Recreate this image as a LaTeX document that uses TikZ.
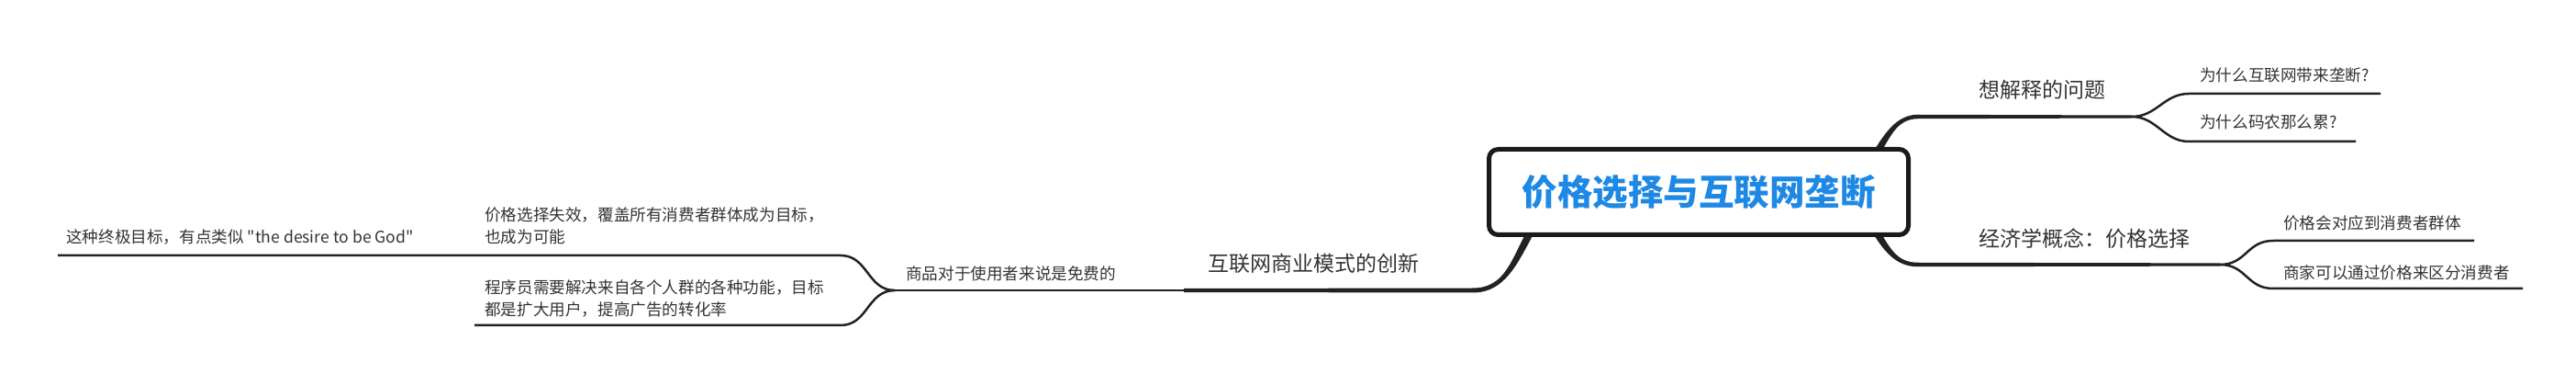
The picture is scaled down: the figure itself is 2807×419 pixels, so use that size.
\documentclass[tikz,border=0pt]{standalone}
\usepackage{fontspec}
\setmainfont{Noto Sans CJK SC}
\newfontfamily\cjk{Noto Sans CJK SC}
\usetikzlibrary{calc}
\definecolor{titleblue}{HTML}{1E88E5}
\definecolor{txt}{HTML}{333333}
\definecolor{ln}{HTML}{222222}
\definecolor{boxln}{HTML}{1A1A1A}
\begin{document}
\begin{tikzpicture}[x=1pt,y=-1pt,
  lbl/.style={anchor=west,inner sep=0pt,text=txt,font=\cjk\fontsize{17.6}{24}\selectfont},
  lblbig/.style={anchor=west,inner sep=0pt,text=txt,font=\cjk\fontsize{23}{28}\selectfont},
  sub/.style={draw=ln,line width=2.5pt},
  taper/.style={fill=ln,draw=none},
  rootbox/.style={draw=boxln,line width=5pt,rounded corners=10pt,fill=white,
    minimum width=457pt,minimum height=93pt,inner sep=0pt,text=titleblue,
    font=\fontsize{38.5}{46}\selectfont\bfseries}]
\useasboundingbox (0,0) rectangle (2807,419);

% coordinates of branch lines
\coordinate (r1s) at (2040,175);
\coordinate (r1h) at (2090,127);
\coordinate (r1f) at (2323,127);
\coordinate (r1a) at (2385,102);
\coordinate (r1ae) at (2594,102);
\coordinate (r1b) at (2385,154);
\coordinate (r1be) at (2567,154);

\coordinate (r2s) at (2040,245);
\coordinate (r2h) at (2090,288);
\coordinate (r2f) at (2419,288);
\coordinate (r2a) at (2477,262);
\coordinate (r2ae) at (2696,262);
\coordinate (r2b) at (2477,314);
\coordinate (r2be) at (2749,314);

\coordinate (l1s) at (1669,250);
\coordinate (l1h) at (1605,316);
\coordinate (l1m) at (1290,316);
\coordinate (l1f) at (975,316);
\coordinate (l1a) at (916,278);
\coordinate (l1ae) at (517,278);
\coordinate (l1aee) at (63,278);
\coordinate (l1b) at (916,354);
\coordinate (l1be) at (517,354);

% main tapered branches
\fill[taper] ($(r1s)+(3.4,2)$) .. controls ($(r1s)+(19.4,-25)$) and ($(r1h)+(-24,2.25)$) .. ($(r1h)+(0,2.25)$)
  -- ($(r1f)+(0,1.5)$) -- ($(r1f)+(0,-1.5)$) -- ($(r1h)+(0,-2.25)$)
  .. controls ($(r1h)+(-24,-2.25)$) and ($(r1s)+(12.6,-29)$) .. ($(r1s)+(-3.4,-2)$) -- cycle;
\fill[taper] ($(r2s)+(-3.4,2)$) .. controls ($(r2s)+(12.6,29)$) and ($(r2h)+(-24,2.25)$) .. ($(r2h)+(0,2.25)$)
  -- ($(r2f)+(0,1.6)$) -- ($(r2f)+(0,-1.6)$) -- ($(r2h)+(0,-2.25)$)
  .. controls ($(r2h)+(-24,-2.25)$) and ($(r2s)+(19.4,25)$) .. ($(r2s)+(3.4,-2)$) -- cycle;
\fill[taper] ($(l1s)+(-3.5,-1.9)$) .. controls ($(l1s)+(-22.5,33.1)$) and ($(l1h)+(35,-2.5)$) .. ($(l1h)+(0,-2.5)$)
  -- ($(l1m)+(0,-2)$) -- ($(l1m)+(0,2)$) -- ($(l1h)+(0,2.5)$)
  .. controls ($(l1h)+(35,2.5)$) and ($(l1s)+(-15.5,36.9)$) .. ($(l1s)+(3.5,1.9)$) -- cycle;

% sub branches
\draw[sub] (r1f) .. controls +(27,0) and +(-27,0) .. (r1a) -- (r1ae);
\draw[sub] (r1f) .. controls +(27,0) and +(-27,0) .. (r1b) -- (r1be);
\draw[sub] (r2f) .. controls +(29,0) and +(-29,0) .. (r2a) -- (r2ae);
\draw[sub] (r2f) .. controls +(29,0) and +(-29,0) .. (r2b) -- (r2be);
\draw[sub] (l1m) -- (l1f);
\draw[sub] (l1f) .. controls +(-30,0) and +(30,0) .. (l1a) -- (l1ae) -- (l1aee);
\draw[sub] (l1f) .. controls +(-30,0) and +(30,0) .. (l1b) -- (l1be);

% labels
\node[lblbig] (n1) at (2156,98) {想解释的问题};
\node[lbl] (n11) at (2397,82) {为什么互联网带来垄断?};
\node[lbl] (n12) at (2397,133) {为什么码农那么累?};
\node[lblbig] (n2) at (2156,260) {经济学概念：价格选择};
\node[lbl] (n21) at (2488,243) {价格会对应到消费者群体};
\node[lbl] (n22) at (2488,297) {商家可以通过价格来区分消费者};
\node[lblbig] (n3) at (1316,287) {互联网商业模式的创新};
\node[lbl] (n31) at (987,298) {商品对于使用者来说是免费的};
\node[lbl,align=left] (n311) at (528,246) {价格选择失效，覆盖所有消费者群体成为目标，\\也成为可能};
\node[lbl,align=left] (n312) at (528,324.5) {程序员需要解决来自各个人群的各种功能，目标\\都是扩大用户，提高广告的转化率};
\node[lbl] (n3111) at (72,258) {这种终极目标，有点类似 "the desire to be God"};

% root
\node[rootbox] (root) at (1851,209) {\cjk\bfseries 价格选择与互联网垄断};
\end{tikzpicture}
\end{document}
